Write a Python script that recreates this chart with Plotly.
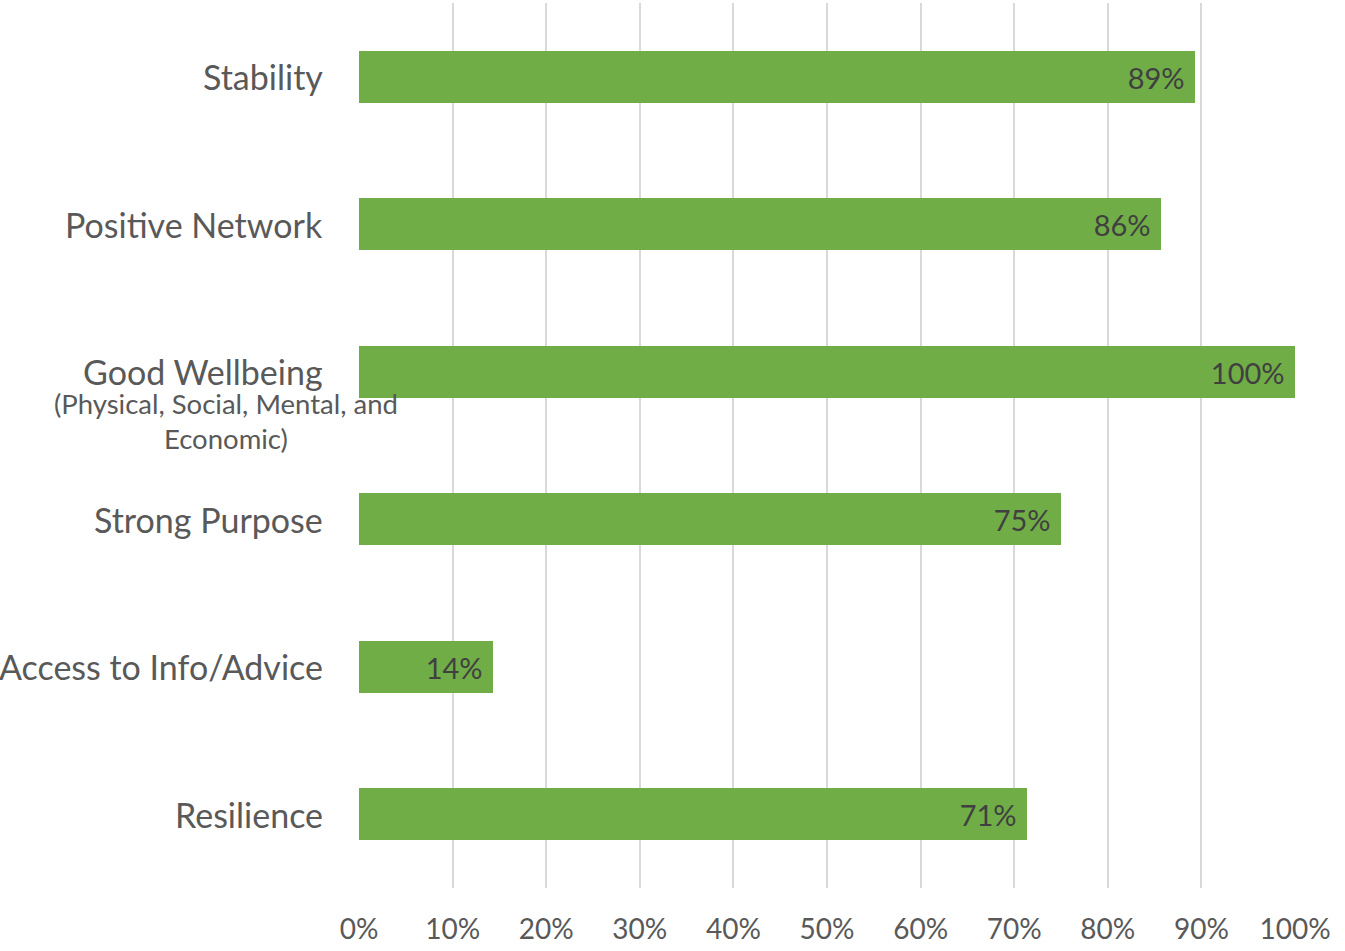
import plotly.graph_objects as go

# Share of respondents reporting each outcome
categories = ["Stability", "Positive Network", "Good Wellbeing",
              "Strong Purpose", "Access to Info/Advice", "Resilience"]
shares = [0.893, 0.857, 1.0, 0.75, 0.143, 0.714]
x_ticks = [0, 0.1, 0.2, 0.3, 0.4, 0.5, 0.6, 0.7, 0.8, 0.9, 1.0]
wellbeing_note = ["(Physical, Social, Mental, and", "Economic)"]

FONT = "Lato"
GREEN = "#70AD47"
TEXT = "#595959"

fig = go.Figure(go.Bar(
    x=shares,
    y=categories,
    orientation="h",
    marker=dict(color=GREEN, line=dict(width=0)),
    width=0.35,
    texttemplate="%{x:.0%}\u00a0",
    textposition="inside",
    insidetextanchor="end",
    textfont=dict(family=FONT, size=29, color="#404040"),
    hoverinfo="skip",
))

# Category labels drawn beside the axis
for cat in categories:
    fig.add_annotation(
        x=0, xref="paper", xanchor="right", xshift=-34,
        y=cat, yref="y", yanchor="middle",
        text=cat, showarrow=False,
        font=dict(family=FONT, size=34, color=TEXT),
    )

# Sub-note under the wellbeing label
for i, line in enumerate(wellbeing_note):
    fig.add_annotation(
        x=0, xref="paper", xanchor="center", xshift=-133,
        y="Good Wellbeing", yref="y", yanchor="middle",
        yshift=-32 - 35 * i,
        text=line, showarrow=False,
        font=dict(family=FONT, size=27.5, color=TEXT),
    )

fig.update_layout(
    width=1345, height=951,
    margin=dict(l=359, r=50, t=3, b=63),
    paper_bgcolor="white", plot_bgcolor="white",
    showlegend=False,
    bargap=0,
    xaxis=dict(
        range=[0, 1.0], tickvals=x_ticks, tickformat=".0%",
        showgrid=True, gridcolor="#D9D9D9", gridwidth=2,
        zeroline=False, showline=False, ticks="",
        tickfont=dict(family=FONT, size=28, color=TEXT),
        ticklabelstandoff=22,
    ),
    yaxis=dict(
        categoryorder="array", categoryarray=categories,
        autorange="reversed", showticklabels=False,
        showgrid=False, zeroline=False, showline=False, ticks="",
    ),
)

fig.write_html("out.html")
